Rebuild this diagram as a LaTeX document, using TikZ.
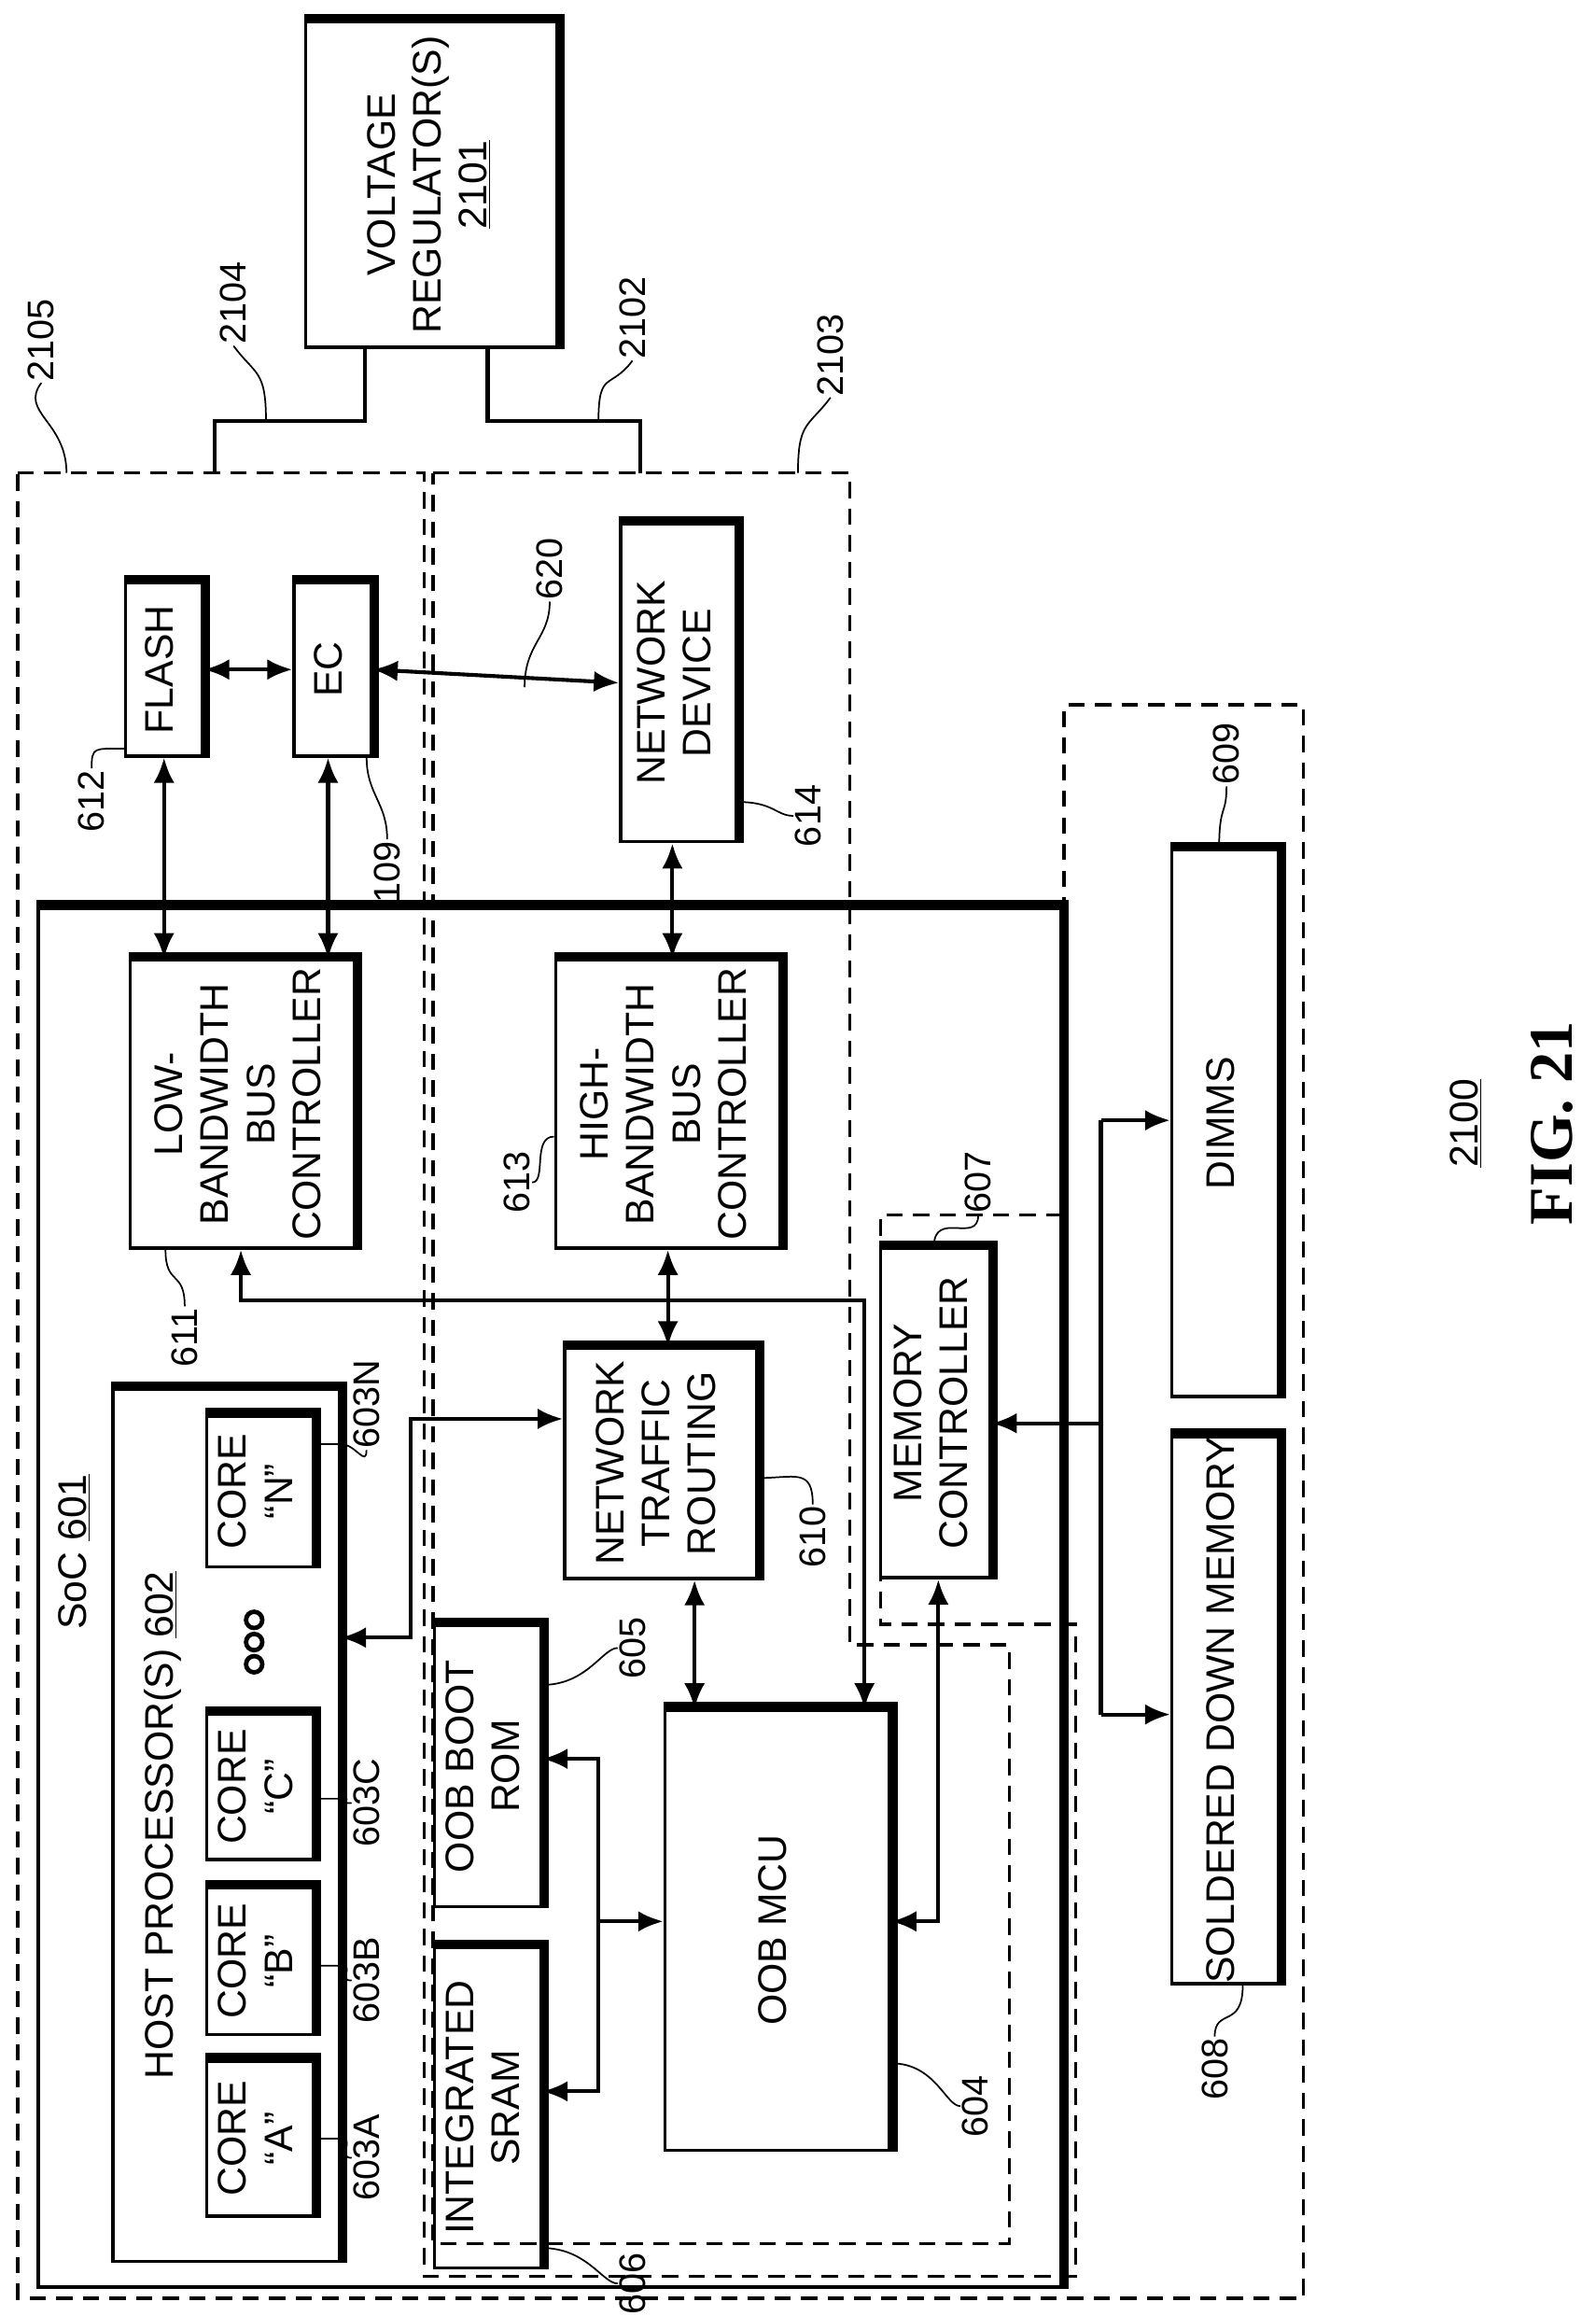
\documentclass[tikz,border=0pt]{standalone}
\usepackage{fontspec}
\setmainfont{Liberation Sans}
\usepackage{graphicx}
\usetikzlibrary{arrows.meta}
\newcommand{\rt}[1]{\rotatebox{90}{\begin{tabular}{@{}c@{}}#1\end{tabular}}}
\tikzset{
    blk/.style={rectangle, draw=black, line width=2.2pt, inner sep=0pt, font=\fontsize{27}{31}\selectfont},
    shade/.style={line width=4.5pt},
    dbox/.style={line width=2.2pt, dash pattern=on 11pt off 7pt},
    arrow/.style={{Latex[length=17pt,width=14pt]}-{Latex[length=17pt,width=14pt]}, line width=2.6pt},
    oneway/.style={-{Latex[length=17pt,width=14pt]}, line width=2.6pt},
    wire/.style={line width=2.6pt},
    num/.style={rotate=90, inner sep=1pt, font=\fontsize{25}{28}\selectfont},
    lead/.style={line width=1.1pt}
}
\begin{document}
\begin{tikzpicture}[x=1pt, y=-1pt]
    \useasboundingbox (0,0) rectangle (1080,1567);
    % dashed groups
    \draw[dbox] (12,320) -- (287,320) -- (287,1540) -- (728,1540) -- (728,1099) -- (596,1099) -- (596,822) -- (720,822) -- (720,477) -- (882,477) -- (882,1555) -- (12,1555) -- cycle;
    \draw[dbox] (293,320) -- (575,320) -- (575,1113) -- (683,1113) -- (683,1518) -- (293,1518) -- cycle;

    % blocks
    \node[blk, minimum width=170, minimum height=220] (vr) at (292,125) {\rt{VOLTAGE\\REGULATOR(S)\\\underline{2101}}};
    \node[blk, minimum width=52, minimum height=117] (flash) at (111,453) {\rt{FLASH}};
    \node[blk, minimum width=52, minimum height=117] (ec) at (225,453) {\rt{EC}};
    \node[blk, minimum width=78, minimum height=215] (netdev) at (459,462) {\rt{NETWORK\\DEVICE}};
    \node[blk, minimum width=692, minimum height=933] (soc) at (372,1081) {};
    \node[blk, minimum width=152, minimum height=195] (lbc) at (164,747) {\rt{LOW-\\BANDWIDTH\\BUS\\CONTROLLER}};
    \node[blk, minimum width=152, minimum height=195] (hbc) at (452,747) {\rt{HIGH-\\BANDWIDTH\\BUS\\CONTROLLER}};
    \node[blk, minimum width=153, minimum height=590] (host) at (153,1235) {};
    \node[blk, minimum width=72, minimum height=102] (coreN) at (176,1009) {\rt{CORE\\``N''}};
    \node[blk, minimum width=72, minimum height=98] (coreC) at (176,1209) {\rt{CORE\\``C''}};
    \node[blk, minimum width=72, minimum height=99] (coreB) at (176,1327) {\rt{CORE\\``B''}};
    \node[blk, minimum width=72, minimum height=105] (coreA) at (176,1447) {\rt{CORE\\``A''}};
    \node[blk, minimum width=130, minimum height=156] (ntr) at (447,990) {\rt{NETWORK\\TRAFFIC\\ROUTING}};
    \node[blk, minimum width=72, minimum height=190] (rom) at (330,1195) {\rt{OOB BOOT\\ROM}};
    \node[blk, minimum width=72, minimum height=217] (sram) at (330,1426) {\rt{INTEGRATED\\SRAM}};
    \node[blk, minimum width=152, minimum height=298] (mcu) at (526,1306) {\rt{OOB MCU}};
    \node[blk, minimum width=74, minimum height=223] (memc) at (633,956) {\rt{MEMORY\\CONTROLLER}};
    \node[blk, minimum width=72, minimum height=370] (dimms) at (829,760) {\rt{DIMMS}};
    \node[blk, minimum width=72, minimum height=355] (sdm) at (829,1157) {\rt{SOLDERED DOWN MEMORY}};
    \foreach \n in {vr,flash,ec,netdev,soc,lbc,hbc,host,coreN,coreC,coreB,coreA,ntr,rom,sram,mcu,memc,dimms,sdm}
        \draw[shade] ([yshift=2pt]\n.north west) -- ([xshift=2pt,yshift=2pt]\n.north east) -- ([xshift=2pt]\n.south east);

    % texts inside
    \node[num, font=\fontsize{27}{31}\selectfont] (soclab) at (50,1050) {SoC \underline{601}};
    \node[num, font=\fontsize{27}{31}\selectfont] (hostlab) at (110,1235) {HOST PROCESSOR(S) \underline{602}};
    \foreach \k in {0,1,2}
        \draw[line width=3pt] (172,1096+\k*15) circle (5.5);

    % power rails
    \coordinate (r1) at (247,285); \coordinate (r2) at (145,285); \coordinate (r3) at (145,320);
    \coordinate (r4) at (330,285); \coordinate (r5) at (433,285); \coordinate (r6) at (433,320);
    \draw[wire] (vr.south west -| r1) -- (r1) -- (r2) -- (r3);
    \draw[wire] (vr.south west -| r4) -- (r4) -- (r5) -- (r6);

    % connectors
    \draw[arrow] (flash.east) -- (ec.west);
    \draw[arrow] (ec.east) -- (netdev.west);
    \draw[arrow] (flash.south) -- (flash.south |- lbc.north);
    \draw[arrow] (ec.south -| 222,0) -- (222,0 |- lbc.north);
    \draw[arrow] (netdev.south -| 455,0) -- (455,0 |- hbc.north);
    \draw[arrow] (hbc.south) -- (hbc.south |- ntr.north);
    \draw[arrow] (ntr.south -| 470,0) -- (470,0 |- mcu.north);
    \coordinate (lb1) at (585,880); \coordinate (lb2) at (163,880);
    \draw[arrow] (lbc.south -| lb2) -- (lb2) -- (lb1) -- (lb1 |- mcu.north);
    \coordinate (h1) at (278,1108); \coordinate (h2) at (278,960);
    \draw[arrow] (host.east |- h1) -- (h1) -- (h2) -- (ntr.west |- h2);
    \coordinate (s1) at (405,1190); \coordinate (s2) at (405,1415); \coordinate (s3) at (405,1300);
    \draw[arrow] (rom.east |- s1) -- (s1) -- (s2) -- (sram.east |- s2);
    \draw[oneway] (s3) -- (mcu.west |- s3);
    \coordinate (m1) at (635,1300);
    \draw[arrow] (memc.south -| m1) -- (m1) -- (mcu.east |- m1);
    \coordinate (d0) at (745,963); \coordinate (d1) at (745,758); \coordinate (d2) at (745,1160);
    \draw[oneway] (d0) -- (memc.east |- d0);
    \draw[wire] (d1) -- (d2);
    \draw[oneway] (d1) -- (dimms.west |- d1);
    \draw[oneway] (d2) -- (sdm.west |- d2);

    % reference numbers
    \node[num] (l2104) at (158,205) {2104};
    \node[num] (l2102) at (428,215) {2102};
    \node[num] (l2105) at (28,230) {2105};
    \node[num] (l2103) at (562,240) {2103};
    \node[num] (l612) at (62,542) {612};
    \node[num] (l109) at (262,590) {109};
    \node[num] (l620) at (372,385) {620};
    \node[num] (l614) at (547,552) {614};
    \node[num] (l609) at (830,510) {609};
    \node[num] (l613) at (350,800) {613};
    \node[num] (l611) at (125,905) {611};
    \node[num] (l607) at (662,800) {607};
    \node[num] (l603N) at (248,950) {603N};
    \node[num] (l603C) at (248,1220) {603C};
    \node[num] (l603B) at (248,1340) {603B};
    \node[num] (l603A) at (248,1460) {603A};
    \node[num] (l610) at (550,1040) {610};
    \node[num] (l605) at (428,1115) {605};
    \node[num] (l606) at (428,1545) {606};
    \node[num] (l604) at (660,1425) {604};
    \node[num] (l608) at (822,1400) {608};

    \coordinate (p2104) at (180,285); \coordinate (p2102) at (405,285);
    \coordinate (p2105) at (45,320); \coordinate (p2103) at (540,320);
    \draw[lead] (p2104) .. controls +(0,-35) and +(15,20) .. (l2104.west);
    \draw[lead] (p2102) .. controls +(0,-35) and +(-15,20) .. (l2102.west);
    \draw[lead] (p2105) .. controls +(0,-35) and +(-15,20) .. (l2105.west);
    \draw[lead] (p2103) .. controls +(0,-35) and +(-15,20) .. (l2103.west);
    \draw[lead] ([yshift=6pt]flash.south west) .. controls +(-20,0) and +(0,-15) .. (l612.east);
    \draw[lead] ([xshift=-4pt]ec.south east) .. controls +(0,25) and +(0,-25) .. (l109.east);
    \coordinate (p620) at (355,465);
    \draw[lead] (p620) .. controls +(0,-30) and +(0,25) .. (l620.west);
    \draw[lead] ([yshift=28pt]netdev.south east) .. controls +(25,0) and +(-12,0) .. (l614.north);
    \draw[lead] ([xshift=-4pt]dimms.north) .. controls +(0,-30) and +(0,20) .. (l609.west);
    \draw[lead] ([yshift=-22pt]hbc.west) .. controls +(-15,0) and +(10,0) .. (l613.south);
    \draw[lead] ([xshift=-52pt]lbc.south) .. controls +(0,25) and +(0,-25) .. (l611.east);
    \draw[lead] ([xshift=-1pt]memc.north) .. controls +(0,-25) and +(0,20) .. (l607.west);
    \draw[lead] ([yshift=32pt]coreN.east) -- ([yshift=32pt]coreN.east -| host.east) .. controls +(10,0) and +(0,12) .. (l603N.west);
    \draw[lead] ([yshift=-8pt]coreC.east) -- ([yshift=-8pt]coreC.east -| host.east) .. controls +(10,0) and +(-10,0) .. (l603C.north);
    \draw[lead] ([yshift=-3pt]coreB.east) -- ([yshift=-3pt]coreB.east -| host.east) .. controls +(10,0) and +(-10,0) .. (l603B.north);
    \draw[lead] (coreA.east) -- (coreA.east -| host.east) .. controls +(10,0) and +(-10,0) .. (l603A.north);
    \draw[lead] ([yshift=-10pt]ntr.east) .. controls +(25,0) and +(0,-25) .. (l610.east);
    \draw[lead] ([yshift=55pt]rom.east) .. controls +(30,0) and +(-10,0) .. (l605.north);
    \draw[lead] ([yshift=-95pt]sram.east) .. controls +(30,0) and +(-10,0) .. (l606.north);
    \draw[lead] ([yshift=-90pt]mcu.east) .. controls +(30,0) and +(-10,0) .. (l604.north);
    \draw[lead] ([xshift=12pt]sdm.south) .. controls +(0,30) and +(0,-20) .. (l608.east);

    % figure caption
    \node[num, font=\fontsize{27}{31}\selectfont] (fignum) at (992,760) {\underline{2100}};
    \node[num, font=\fontsize{42}{46}\selectfont\bfseries\fontspec{Liberation Serif}] (figlab) at (1050,760) {\textbf{FIG. 21}};
\end{tikzpicture}
\end{document}
